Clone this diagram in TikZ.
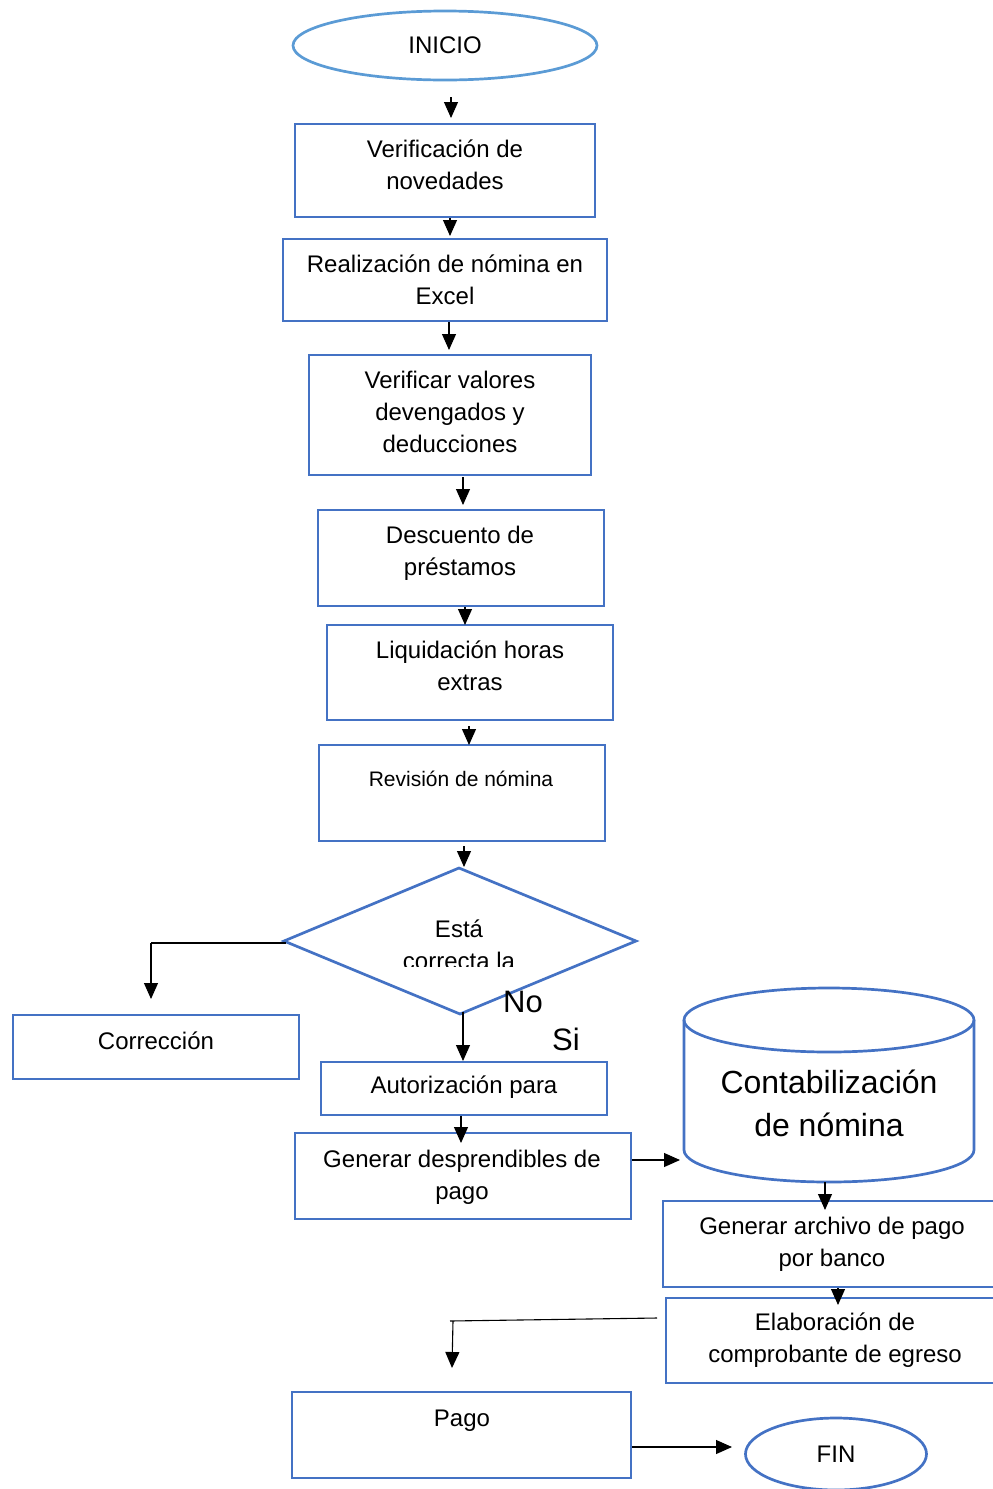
\documentclass[tikz,border=0pt]{standalone}
\usepackage{fontspec}
\setmainfont{Liberation Sans}
\usetikzlibrary{arrows.meta,fit,shapes.geometric}
\definecolor{bblue}{HTML}{4472C4}
\definecolor{lblue}{HTML}{5B9BD5}
\begin{document}
\begin{tikzpicture}[x=1pt,y=-1pt,
  box/.style={draw=bblue,line width=2.7pt,inner sep=0pt,outer sep=0pt},
  oval/.style={draw=#1,ellipse,line width=2.7pt,inner sep=0pt,outer sep=0pt,font=\fontsize{24}{32}\selectfont},
  arr/.style={-{Triangle[length=16pt,width=14pt]},line width=1.1pt,black},
  plain/.style={line width=1.1pt,black},
  txt/.style={font=\fontsize{24}{32}\selectfont,align=center,inner sep=0pt},
  txtsm/.style={font=\fontsize{21}{28}\selectfont,align=center,inner sep=0pt},
  txtbig/.style={font=\fontsize{32}{43}\selectfont,align=center,inner sep=0pt},
  lbl/.style={font=\fontsize{31}{36}\selectfont,inner sep=0pt}]
\useasboundingbox (0,0) rectangle (993,1489);
\clip (0,0) rectangle (993,1489);

% INICIO
\node[oval=lblue,minimum width=304pt,minimum height=69pt] (ini) at (445,45.5) {INICIO};

% boxes
\node[box,fit={(295,124) (595,217)}] (b1) {};
\node[txt] (t1) at (445,165) {Verificación de\\novedades};
\node[box,fit={(283,239) (607,321)}] (b2) {};
\node[txt] (t2) at (445,280) {Realización de nómina en\\Excel};
\node[box,fit={(309,355) (591,475)}] (b3) {};
\node[txt] (t3) at (450,412) {Verificar valores\\devengados y\\deducciones};
\node[box,fit={(318,510) (604,606)}] (b4) {};
\node[txt] (t4) at (460,553) {Descuento de\\préstamos};
\node[box,fit={(327,625) (613,720)}] (b5) {};
\node[txt] (t5) at (470,666) {Liquidación horas\\extras};
\node[box,fit={(319,745) (605,841)}] (b6) {};
\node[txtsm] (t6) at (461,779) {Revisión de nómina};

% decision
\coordinate (dT) at (459,868);
\coordinate (dR) at (636,941);
\coordinate (dB) at (460,1014);
\coordinate (dL) at (284,941);
\draw[bblue,line width=2.7pt,line join=miter] (dT) -- (dR) -- (dB) -- (dL) -- cycle;
\begin{scope}
\clip (300,880) rectangle (620,966);
\node[txt] (t7) at (459,945) {Está\\correcta la};
\end{scope}
\node[lbl] (no) at (523,1002) {No};
\node[lbl] (si) at (566,1039) {Si};

\node[box,fit={(13,1015) (299,1079)}] (b8) {};
\node[txt] (t8) at (156,1041) {Corrección};
\node[box,fit={(321,1062) (607,1115)}] (b9) {};
\node[txt] (t9) at (464,1087) {Autorización para};
\node[box,fit={(295,1133) (631,1219)}] (b10) {};
\node[txt] (t10) at (462,1177) {Generar desprendibles de\\pago};

% cylinder
\draw[bblue,line width=2.7pt] (684,1020) -- (684,1150) arc[start angle=180,end angle=0,x radius=145,y radius=32] -- (974,1020);
\draw[bblue,line width=2.7pt] (829,1020) ellipse[x radius=145,y radius=32];
\node[txtbig] (cont) at (829,1103) {Contabilización\\de nómina};

\node[box,fit={(663,1201) (1005,1287)}] (b11) {};
\node[txt] (t11) at (832,1244) {Generar archivo de pago\\por banco};
\node[box,fit={(666,1298) (1005,1383)}] (b12) {};
\node[txt] (t12) at (835,1340) {Elaboración de\\comprobante de egreso};
\node[box,fit={(292,1392) (631,1478)}] (b13) {};
\node[txt] (t13) at (462,1421) {Pago};
\node[oval=bblue,minimum width=181pt,minimum height=72pt] (fin) at (836,1454) {FIN};

% connector end points
\coordinate (a1s) at (451,97);   \coordinate (a1e) at (451,118);
\coordinate (a2s) at (450,218);  \coordinate (a2e) at (450,236);
\coordinate (a3s) at (449,322);  \coordinate (a3e) at (449,350);
\coordinate (a4s) at (463,477);  \coordinate (a4e) at (463,505);
\coordinate (a5s) at (465,607);  \coordinate (a5e) at (465,625);
\coordinate (a6s) at (469,726);  \coordinate (a6e) at (469,745);
\coordinate (a7s) at (464,846);  \coordinate (a7e) at (464,867);
\coordinate (cL1) at (151,943);  \coordinate (cL2) at (151,999);
\coordinate (a8s) at (463,1012); \coordinate (a8e) at (463,1061);
\coordinate (a9s) at (461,1116); \coordinate (a9e) at (461,1143);
\coordinate (a10s) at (632,1160); \coordinate (a10e) at (680,1160);
\coordinate (a11s) at (825,1182); \coordinate (a11e) at (825,1210);
\coordinate (a12s) at (838,1288); \coordinate (a12e) at (838,1305);
\coordinate (p1) at (657,1318); \coordinate (p2) at (450,1321); \coordinate (p3) at (453,1321); \coordinate (p4) at (452,1368);
\coordinate (a14s) at (632,1447); \coordinate (a14e) at (732,1447);

\draw[arr] (a1s) -- (a1e);
\draw[arr] (a2s) -- (a2e);
\draw[arr] (a3s) -- (a3e);
\draw[arr] (a4s) -- (a4e);
\draw[arr] (a5s) -- (a5e);
\draw[arr] (a6s) -- (a6e);
\draw[arr] (a7s) -- (a7e);
\draw[plain] (dL) ++(2,2) -- (cL1);
\draw[arr] (cL1) -- (cL2);
\draw[arr] (a8s) -- (a8e);
\draw[arr] (a9s) -- (a9e);
\draw[arr] (a10s) -- (a10e);
\draw[arr] (a11s) -- (a11e);
\draw[arr] (a12s) -- (a12e);
\draw[plain] (p1) -- (p2);
\draw[arr] (p3) -- (p4);
\draw[arr] (a14s) -- (a14e);
\end{tikzpicture}
\end{document}
